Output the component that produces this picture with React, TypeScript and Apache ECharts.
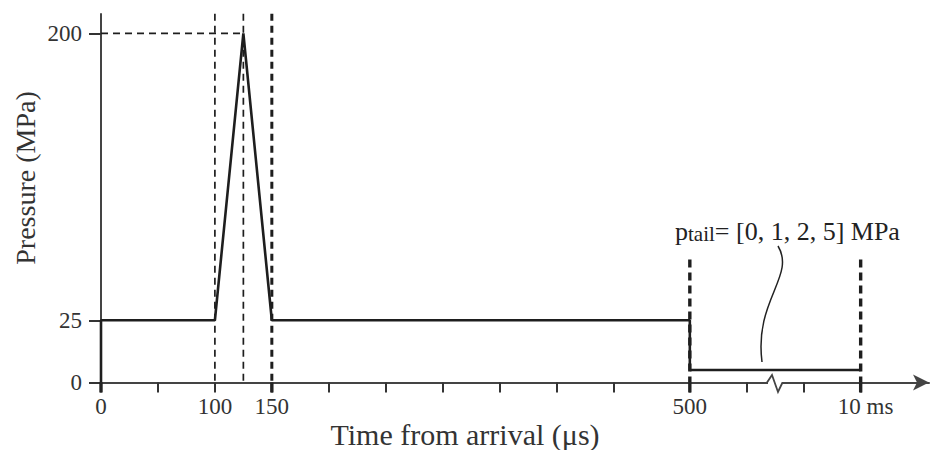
import React, { useEffect, useRef } from "react";
import * as echarts from "echarts";

// ---- data (real units: time in µs, pressure in MPa) ----
const timeUs = [0, 0, 100, 125, 150, 500, 500, 10000];
const pressureMPa = [0, 25, 25, 200, 25, 25, 5, 5];
const tailPressures = [0, 1, 2, 5];

const xLabelTimes = [0, 100, 150, 500, 10000];
const xLabelTexts = ["0", "100", "150", "500", "10 ms"];
const xTickTimes = [0, 50, 100, 150, 200, 250, 300, 350, 400, 450, 500];
const brokenSegmentTickCount = 2;
const boldTickTimes = [0, 150, 500, 10000];

const yLabelValues = [0, 25, 200];
const yLabelTexts = ["0", "25", "200"];

const guideTimes = [100, 125, 150];
const guideTopMPa = 212;
const peakTimeUs = 125;
const peakMPa = 200;
const tailMarkTimes = [500, 10000];
const tailMarkTopMPa = 62;

// ---- schematic (broken) axis scales ----
const xRealBreaks = [0, 450, 500, 10000];
const xAxisBreaks = [0, 450, 517, 667];
const yRealBreaks = [0, 25, 200];
const yAxisBreaks = [0, 25, 140.2];
const xAxisMax = 727;
const yAxisMax = 148;

function piecewise(v: number, from: number[], to: number[]) {
  let i = 0;
  while (i < from.length - 2 && v > from[i + 1]) i++;
  const t = (v - from[i]) / (from[i + 1] - from[i]);
  return to[i] + t * (to[i + 1] - to[i]);
}
const ax = (t: number) => piecewise(t, xRealBreaks, xAxisBreaks);
const ay = (p: number) => piecewise(p, yRealBreaks, yAxisBreaks);

const FONT = "Liberation Serif";
const INK = "#1e1e1e";
const AXIS = "#444";

export default function App() {
  const ref = useRef<HTMLDivElement>(null);
  useEffect(() => {
    document.body.style.margin = "0";
    const chart = echarts.init(ref.current!, null, { renderer: "svg" });

    const brokenStart = xAxisBreaks[2];
    const brokenEnd = xAxisBreaks[3];
    const brokenTicks: number[] = [];
    for (let k = 1; k <= brokenSegmentTickCount; k++) {
      brokenTicks.push(brokenStart + (k * (brokenEnd - brokenStart)) / (brokenSegmentTickCount + 1));
    }
    const xTicks = [...xTickTimes.map(ax), ...brokenTicks, ax(10000)];
    const xLabelAxis = xLabelTimes.map(ax);
    const yLabelAxis = yLabelValues.map(ay);

    const mainData = timeUs.map((t, i) => [ax(t), ay(pressureMPa[i])]);

    const dashed = (data: number[][], width: number, dash: number[]) => ({
      type: "line",
      data,
      showSymbol: false,
      symbol: "none",
      silent: true,
      clip: false,
      z: 3,
      lineStyle: { color: INK, width, type: dash },
    });

    const guideSeries: any[] = guideTimes.map((t, i) =>
      dashed(
        [
          [ax(t), ay(guideTopMPa)],
          [ax(t), 0],
        ],
        i === guideTimes.length - 1 ? 3 : 1.7,
        [7, 5]
      )
    );
    guideSeries.push(
      dashed(
        [
          [0, ay(peakMPa)],
          [ax(peakTimeUs), ay(peakMPa)],
        ],
        1.7,
        [7, 5]
      )
    );
    tailMarkTimes.forEach((t) =>
      guideSeries.push(
        dashed(
          [
            [ax(t), ay(tailMarkTopMPa)],
            [ax(t), 0],
          ],
          3.4,
          [8, 5]
        )
      )
    );

    chart.setOption({
      animation: false,
      grid: { left: 101, right: 9, top: 14, bottom: 67.5, containLabel: false, outerBoundsMode: "none" },
      xAxis: {
        type: "value",
        min: 0,
        max: xAxisMax,
        splitLine: { show: false },
        axisLine: {
          show: true,
          onZero: true,
          lineStyle: { color: AXIS, width: 2 },
          symbol: ["none", "arrow"],
          symbolSize: [12, 16],
        },
        axisTick: {
          show: true,
          customValues: xTicks,
          length: 10,
          inside: false,
          lineStyle: { color: "#333", width: 2 },
        },
        axisLabel: {
          show: true,
          customValues: xLabelAxis,
          margin: 12,
          fontFamily: FONT,
          fontSize: 23,
          color: "#333",
          formatter: (v: number) => {
            const i = xLabelAxis.findIndex((a) => Math.abs(a - v) < 0.5);
            if (i < 0) return "";
            return i === xLabelTexts.length - 1 ? `{last|${xLabelTexts[i]}}` : xLabelTexts[i];
          },
          rich: {
            last: { fontFamily: FONT, fontSize: 23, color: "#333", padding: [0, 0, 0, 10] },
          },
        },
      },
      yAxis: {
        type: "value",
        min: 0,
        max: yAxisMax,
        splitLine: { show: false },
        axisLine: { show: true, lineStyle: { color: AXIS, width: 2 } },
        axisTick: {
          show: true,
          customValues: yLabelAxis,
          length: 12,
          lineStyle: { color: "#333", width: 2 },
        },
        axisLabel: {
          show: true,
          customValues: yLabelAxis,
          margin: 19,
          fontFamily: FONT,
          fontSize: 23,
          color: "#333",
          formatter: (v: number) => {
            const i = yLabelAxis.findIndex((a) => Math.abs(a - v) < 0.5);
            return i >= 0 ? yLabelTexts[i] : "";
          },
        },
      },
      series: [
        ...guideSeries,
        {
          type: "custom",
          silent: true,
          clip: false,
          z: 6,
          data: boldTickTimes.map((t) => [ax(t), 0]),
          renderItem: (params: any, api: any) => {
            const p = api.coord([api.value(0), 0]);
            return {
              type: "line",
              shape: { x1: p[0], y1: p[1], x2: p[0], y2: p[1] + 10 },
              style: { stroke: "#222", lineWidth: 3.4 },
            };
          },
        },
        {
          type: "line",
          data: mainData,
          showSymbol: false,
          symbol: "none",
          silent: true,
          clip: false,
          z: 10,
          lineStyle: { color: INK, width: 2.6 },
        },
      ],
      graphic: [
        {
          type: "text",
          x: 465,
          y: 434,
          z: 100,
          style: {
            text: "Time from arrival (\u03bcs)",
            fontFamily: FONT,
            fontSize: 30,
            fill: "#333",
            align: "center",
            verticalAlign: "middle",
          },
        },
        {
          type: "text",
          x: 25,
          y: 178,
          rotation: Math.PI / 2,
          z: 100,
          style: {
            text: "Pressure (MPa)",
            fontFamily: FONT,
            fontSize: 28,
            fill: "#333",
            align: "center",
            verticalAlign: "middle",
          },
        },
        {
          type: "text",
          x: 675,
          y: 231,
          z: 100,
          style: {
            text: `{p|p}{s|tail}{p|= [${tailPressures.join(", ")}] MPa}`,
            fontFamily: FONT,
            fill: "#222",
            align: "left",
            verticalAlign: "middle",
            rich: {
              p: { fontFamily: FONT, fontSize: 26, lineHeight: 26, fill: "#222" },
              s: { fontFamily: FONT, fontSize: 21, lineHeight: 18, verticalAlign: "bottom", fill: "#222" },
            },
          },
        },
        {
          type: "bezierCurve",
          z: 100,
          shape: { x1: 778, y1: 246, cpx1: 796, cpy1: 276, cpx2: 754, cpy2: 300, x2: 762, y2: 362 },
          style: { stroke: "#222", lineWidth: 1.5, fill: "none" },
        },
        {
          type: "rect",
          z: 100,
          shape: { x: 768, y: 379, width: 14, height: 6 },
          style: { fill: "#fff" },
        },
        {
          type: "polyline",
          z: 101,
          shape: {
            points: [
              [767, 382.5],
              [772, 375],
              [778, 392],
              [782.5, 382.5],
            ],
          },
          style: { stroke: AXIS, lineWidth: 1.8, fill: "none" },
        },
      ],
    });
    return () => chart.dispose();
  }, []);
  return <div ref={ref} style={{ width: 938, height: 450 }} />;
}
